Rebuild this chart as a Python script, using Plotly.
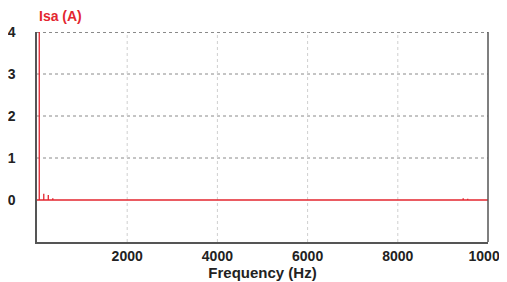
import plotly.graph_objects as go

# Harmonic spectrum data (frequency in Hz, amplitude in A)
harm_freq = [50, 150, 250, 350, 550, 650, 850, 9450, 9550, 9650]
harm_amp = [4.3, 0.15, 0.12, 0.04, 0.02, 0.02, 0.015, 0.04, 0.03, 0.02]
freq_min, freq_max = 0, 10000

x_ticks = [2000, 4000, 6000, 8000, 10000]
y_ticks = [0, 1, 2, 3, 4]

# Build spike line: baseline at zero with vertical lines at each harmonic
xs, ys = [freq_min], [0]
for f, a in zip(harm_freq, harm_amp):
    xs += [f, f, f]
    ys += [0, a, 0]
xs.append(freq_max)
ys.append(0)

RED = "#e3262f"
fig = go.Figure()
fig.add_trace(go.Scatter(x=xs, y=ys, mode="lines",
                         line=dict(color=RED, width=1.3), hoverinfo="skip",
                         showlegend=False))

# horizontal dotted gridlines
for v in [1, 2, 3]:
    fig.add_hline(y=v, line=dict(color="#8a8a8a", width=1, dash="dot"), layer="below")
fig.add_hline(y=4, line=dict(color="#8a8a8a", width=2, dash="dot"), layer="below")
# vertical dotted gridlines
for v in [2000, 4000, 6000, 8000]:
    fig.add_vline(x=v, line=dict(color="#cfcfcf", width=1, dash="dot"), layer="below")

fig.update_layout(
    width=507, height=274,
    margin=dict(l=29, r=27, t=24, b=40),
    paper_bgcolor="white", plot_bgcolor="white",
    font=dict(family="Liberation Sans, Arial, sans-serif", size=13, color="#222"),
    annotations=[dict(text="<b>Isa (A)</b>", x=0, y=1, xref="paper", yref="paper",
                      xanchor="left", yanchor="bottom", yshift=6, showarrow=False,
                      font=dict(color=RED, size=14))],
)
fig.update_xaxes(range=[freq_min, freq_max], tickvals=x_ticks,
                 ticktext=[f"<b>{t}</b>" for t in x_ticks],
                 tickfont=dict(size=14),
                 showgrid=False, zeroline=False, showline=True, automargin=False,
                 linecolor="#555", linewidth=1.5, mirror=False, ticks="",
                 title=dict(text="<b>Frequency (Hz)</b>", standoff=0,
                            font=dict(size=15)))
fig.update_yaxes(range=[-1, 4], tickvals=y_ticks,
                 ticktext=[f"<b>{t}</b>" for t in y_ticks],
                 tickfont=dict(size=14),
                 showgrid=False, zeroline=False, showline=True, automargin=False,
                 linecolor="#555", linewidth=1.5, ticks="", ticklabelstandoff=17)
# right border line
fig.add_shape(type="line", xref="paper", yref="paper", x0=1, x1=1, y0=0, y1=1,
              line=dict(color="#555", width=1.5))

fig.write_html("out.html")
